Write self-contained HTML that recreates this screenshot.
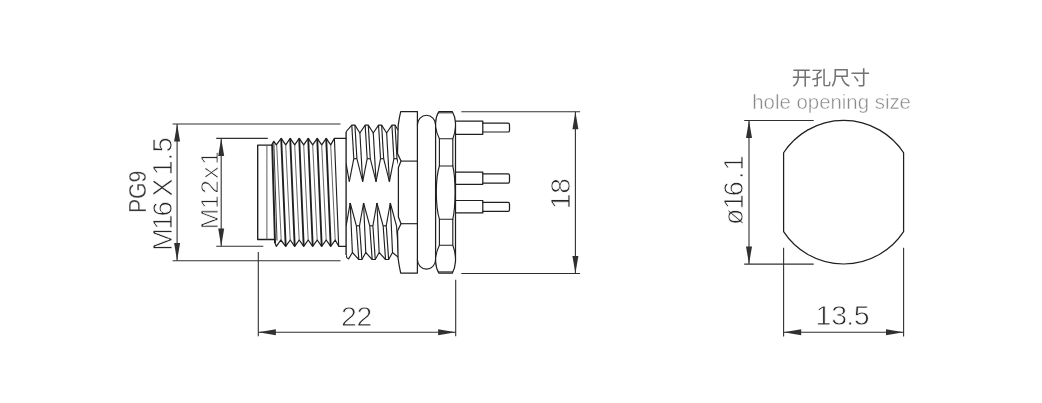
<!DOCTYPE html>
<html lang="zh">
<head>
<meta charset="utf-8">
<title>M12 connector drawing</title>
<style>
html,body{margin:0;padding:0;background:#fff;}
body{width:1042px;height:403px;overflow:hidden;position:relative;font-family:"Liberation Sans","Noto Sans CJK SC",sans-serif;}
svg{position:absolute;left:0;top:0;display:block;filter:grayscale(1);}
svg text{font-family:"Liberation Sans","Noto Sans CJK SC",sans-serif;}
</style>
</head>
<body>
<svg width="1042" height="403" viewBox="0 0 1042 403">
<defs><clipPath id="m16clip"><rect x="346.1" y="100" width="51.9" height="190"/></clipPath></defs>
<text x="146.40" y="191.80" font-size="23.8" text-anchor="middle" fill="#3a3a3a" stroke="#fff" stroke-width="0.3" transform="rotate(-90 146.40 191.80)" textLength="42.5" lengthAdjust="spacingAndGlyphs">PG9</text>
<text transform="translate(171.50 246.80) rotate(-90)" x="-4.15 17.16 30.43 50.13 71.26 86.26 94.25" y="0" font-size="27.6" fill="#282828" stroke="#fff" stroke-width="0.8">M16X1.5</text>
<text transform="translate(218.10 227.00) rotate(-90)" x="-2.35 18.24 33.26 48.20 62.24" y="0" font-size="24.6" fill="#282828" stroke="#fff" stroke-width="0.8">M12x1</text>
<text transform="translate(0.00 325.80)" x="341.10 356.45" y="0" font-size="28.4" fill="#282828" stroke="#fff" stroke-width="0.8">22</text>
<text transform="translate(569.70 205.20) rotate(-90)" x="-3.95 11.53" y="0" font-size="28.3" fill="#282828" stroke="#fff" stroke-width="0.8">18</text>
<text transform="translate(742.60 222.00) rotate(-90)" x="-2.94 12.86 25.73 43.06 51.46" y="0" font-size="26.9" fill="#282828" stroke="#fff" stroke-width="0.8">ø16.1</text>
<text transform="translate(0.00 325.40)" x="815.59 831.26 846.14 853.81" y="0" font-size="28.5" fill="#282828" stroke="#fff" stroke-width="0.8">13.5</text>
<text x="831.00" y="85.40" font-size="19.6" text-anchor="middle" fill="#737373" font-weight="400">开孔尺寸</text>
<text x="831.60" y="109.30" font-size="20.4" text-anchor="middle" fill="#8a8a8a" stroke="#fff" stroke-width="0.45">hole opening size</text>
<line x1="172.60" y1="124.00" x2="340.50" y2="124.00" stroke="#303030" stroke-width="1.1"/>
<line x1="172.60" y1="260.70" x2="340.50" y2="260.70" stroke="#303030" stroke-width="1.1"/>
<line x1="177.10" y1="124.00" x2="177.10" y2="260.70" stroke="#303030" stroke-width="1.1"/>
<polygon points="177.10,124.00 174.10,141.60 180.10,141.60" fill="#303030"/>
<polygon points="177.10,260.70 174.10,243.10 180.10,243.10" fill="#303030"/>
<line x1="216.20" y1="138.40" x2="267.80" y2="138.40" stroke="#303030" stroke-width="1.1"/>
<line x1="216.20" y1="246.20" x2="263.30" y2="246.20" stroke="#303030" stroke-width="1.1"/>
<line x1="221.20" y1="138.40" x2="221.20" y2="246.20" stroke="#303030" stroke-width="1.1"/>
<polygon points="221.20,138.40 218.20,156.00 224.20,156.00" fill="#303030"/>
<polygon points="221.20,246.20 218.20,228.60 224.20,228.60" fill="#303030"/>
<path d="M272.00 145.10 L257.70 145.10 L257.70 239.50 L274.80 239.50" fill="none" stroke="#1f1f1f" stroke-width="1.36" stroke-linejoin="round" stroke-linecap="round"/>
<line x1="266.90" y1="145.10" x2="266.90" y2="239.50" stroke="#555" stroke-width="0.95"/>
<path d="M272.00 145.10 L272.40 143.50 L273.80 141.30 L276.30 144.90 L281.20 138.40 L285.70 144.90 L290.20 138.40 L294.70 144.90 L299.20 138.40 L303.70 144.90 L308.20 138.40 L312.70 144.90 L317.20 138.40 L321.70 144.90 L326.20 138.40 L330.70 144.90 L334.40 138.40 L346.00 138.40" fill="none" stroke="#1f1f1f" stroke-width="1.24" stroke-linejoin="round" stroke-linecap="round"/>
<path d="M274.80 239.50 L275.00 243.00 L276.30 246.30 L280.80 240.00 L285.70 246.30 L290.20 240.00 L294.70 246.30 L299.20 240.00 L303.70 246.30 L308.20 240.00 L312.70 246.30 L317.20 240.00 L321.70 246.30 L326.20 240.00 L330.70 246.30 L335.20 240.00 L338.70 246.30 L346.00 246.30" fill="none" stroke="#1f1f1f" stroke-width="1.24" stroke-linejoin="round" stroke-linecap="round"/>
<line x1="272.20" y1="144.50" x2="275.00" y2="243.00" stroke="#1f1f1f" stroke-width="1.92"/>
<line x1="273.80" y1="141.30" x2="277.00" y2="240.50" stroke="#1f1f1f" stroke-width="0.9"/>
<line x1="281.20" y1="138.40" x2="285.70" y2="246.30" stroke="#1f1f1f" stroke-width="1.86"/>
<line x1="285.70" y1="144.90" x2="290.20" y2="240.00" stroke="#4a4a4a" stroke-width="0.85"/>
<line x1="290.20" y1="138.40" x2="294.70" y2="246.30" stroke="#1f1f1f" stroke-width="1.86"/>
<line x1="294.70" y1="144.90" x2="299.20" y2="240.00" stroke="#4a4a4a" stroke-width="0.85"/>
<line x1="299.20" y1="138.40" x2="303.70" y2="246.30" stroke="#1f1f1f" stroke-width="1.86"/>
<line x1="303.70" y1="144.90" x2="308.20" y2="240.00" stroke="#4a4a4a" stroke-width="0.85"/>
<line x1="308.20" y1="138.40" x2="312.70" y2="246.30" stroke="#1f1f1f" stroke-width="1.86"/>
<line x1="312.70" y1="144.90" x2="317.20" y2="240.00" stroke="#4a4a4a" stroke-width="0.85"/>
<line x1="317.20" y1="138.40" x2="321.70" y2="246.30" stroke="#1f1f1f" stroke-width="1.86"/>
<line x1="321.70" y1="144.90" x2="326.20" y2="240.00" stroke="#4a4a4a" stroke-width="0.85"/>
<line x1="326.20" y1="138.40" x2="330.70" y2="246.30" stroke="#1f1f1f" stroke-width="1.86"/>
<line x1="330.70" y1="144.90" x2="335.20" y2="240.00" stroke="#4a4a4a" stroke-width="0.85"/>
<line x1="276.70" y1="144.90" x2="281.20" y2="240.00" stroke="#4a4a4a" stroke-width="0.85"/>
<line x1="334.40" y1="138.40" x2="338.70" y2="246.30" stroke="#1f1f1f" stroke-width="1.13"/>
<line x1="346.10" y1="131.70" x2="346.10" y2="255.00" stroke="#1f1f1f" stroke-width="1.36"/>
<g clip-path="url(#m16clip)">
<path d="M346.10 131.70 L351.80 125.10 L354.90 125.10 L359.90 133.00 L365.17 125.10 L368.27 125.10 L373.27 133.00 L378.54 125.10 L381.64 125.10 L386.64 133.00 L391.91 125.10 L395.01 125.10 L398.00 130.00" fill="none" stroke="#1f1f1f" stroke-width="1.13" stroke-linejoin="round" stroke-linecap="round"/>
<line x1="351.80" y1="125.10" x2="353.80" y2="158.70" stroke="#1f1f1f" stroke-width="1.13"/>
<line x1="354.90" y1="125.10" x2="356.90" y2="158.70" stroke="#1f1f1f" stroke-width="1.13"/>
<line x1="353.80" y1="158.70" x2="356.90" y2="158.70" stroke="#1f1f1f" stroke-width="1.13"/>
<line x1="353.80" y1="158.70" x2="349.30" y2="181.60" stroke="#1f1f1f" stroke-width="1.13"/>
<line x1="356.90" y1="158.70" x2="362.67" y2="181.60" stroke="#1f1f1f" stroke-width="1.13"/>
<line x1="359.90" y1="133.00" x2="362.67" y2="181.60" stroke="#1f1f1f" stroke-width="1.13"/>
<line x1="365.17" y1="125.10" x2="367.17" y2="158.70" stroke="#1f1f1f" stroke-width="1.13"/>
<line x1="368.27" y1="125.10" x2="370.27" y2="158.70" stroke="#1f1f1f" stroke-width="1.13"/>
<line x1="367.17" y1="158.70" x2="370.27" y2="158.70" stroke="#1f1f1f" stroke-width="1.13"/>
<line x1="367.17" y1="158.70" x2="362.67" y2="181.60" stroke="#1f1f1f" stroke-width="1.13"/>
<line x1="370.27" y1="158.70" x2="376.04" y2="181.60" stroke="#1f1f1f" stroke-width="1.13"/>
<line x1="373.27" y1="133.00" x2="376.04" y2="181.60" stroke="#1f1f1f" stroke-width="1.13"/>
<line x1="378.54" y1="125.10" x2="380.54" y2="158.70" stroke="#1f1f1f" stroke-width="1.13"/>
<line x1="381.64" y1="125.10" x2="383.64" y2="158.70" stroke="#1f1f1f" stroke-width="1.13"/>
<line x1="380.54" y1="158.70" x2="383.64" y2="158.70" stroke="#1f1f1f" stroke-width="1.13"/>
<line x1="380.54" y1="158.70" x2="376.04" y2="181.60" stroke="#1f1f1f" stroke-width="1.13"/>
<line x1="383.64" y1="158.70" x2="389.41" y2="181.60" stroke="#1f1f1f" stroke-width="1.13"/>
<line x1="386.64" y1="133.00" x2="389.41" y2="181.60" stroke="#1f1f1f" stroke-width="1.13"/>
<line x1="391.91" y1="125.10" x2="393.91" y2="158.70" stroke="#1f1f1f" stroke-width="1.13"/>
<line x1="395.01" y1="125.10" x2="397.01" y2="158.70" stroke="#1f1f1f" stroke-width="1.13"/>
<line x1="393.91" y1="158.70" x2="397.01" y2="158.70" stroke="#1f1f1f" stroke-width="1.13"/>
<line x1="393.91" y1="158.70" x2="389.41" y2="181.60" stroke="#1f1f1f" stroke-width="1.13"/>
<line x1="397.01" y1="158.70" x2="402.78" y2="181.60" stroke="#1f1f1f" stroke-width="1.13"/>
<line x1="346.10" y1="163.60" x2="349.30" y2="181.60" stroke="#1f1f1f" stroke-width="1.13"/>
<path d="M346.10 255.00 L346.80 257.60 L348.60 258.90 L352.40 252.50 L358.80 259.50 L361.90 259.50 L365.77 252.50 L372.17 259.50 L375.27 259.50 L379.14 252.50 L385.54 259.50 L388.64 259.50 L392.51 252.50 L398.00 257.00" fill="none" stroke="#1f1f1f" stroke-width="1.13" stroke-linejoin="round" stroke-linecap="round"/>
<line x1="346.13" y1="225.80" x2="350.20" y2="203.00" stroke="#1f1f1f" stroke-width="1.13"/>
<line x1="359.50" y1="225.80" x2="363.57" y2="203.00" stroke="#1f1f1f" stroke-width="1.13"/>
<line x1="356.40" y1="225.80" x2="358.80" y2="259.50" stroke="#1f1f1f" stroke-width="1.13"/>
<line x1="359.50" y1="225.80" x2="361.90" y2="259.50" stroke="#1f1f1f" stroke-width="1.13"/>
<line x1="356.40" y1="225.80" x2="359.50" y2="225.80" stroke="#1f1f1f" stroke-width="1.13"/>
<line x1="356.40" y1="225.80" x2="350.20" y2="203.00" stroke="#1f1f1f" stroke-width="1.13"/>
<line x1="372.87" y1="225.80" x2="376.94" y2="203.00" stroke="#1f1f1f" stroke-width="1.13"/>
<line x1="369.77" y1="225.80" x2="372.17" y2="259.50" stroke="#1f1f1f" stroke-width="1.13"/>
<line x1="372.87" y1="225.80" x2="375.27" y2="259.50" stroke="#1f1f1f" stroke-width="1.13"/>
<line x1="369.77" y1="225.80" x2="372.87" y2="225.80" stroke="#1f1f1f" stroke-width="1.13"/>
<line x1="369.77" y1="225.80" x2="363.57" y2="203.00" stroke="#1f1f1f" stroke-width="1.13"/>
<line x1="386.24" y1="225.80" x2="390.31" y2="203.00" stroke="#1f1f1f" stroke-width="1.13"/>
<line x1="383.14" y1="225.80" x2="385.54" y2="259.50" stroke="#1f1f1f" stroke-width="1.13"/>
<line x1="386.24" y1="225.80" x2="388.64" y2="259.50" stroke="#1f1f1f" stroke-width="1.13"/>
<line x1="383.14" y1="225.80" x2="386.24" y2="225.80" stroke="#1f1f1f" stroke-width="1.13"/>
<line x1="383.14" y1="225.80" x2="376.94" y2="203.00" stroke="#1f1f1f" stroke-width="1.13"/>
<line x1="350.20" y1="203.00" x2="352.40" y2="252.50" stroke="#1f1f1f" stroke-width="1.13"/>
<line x1="363.57" y1="203.00" x2="365.77" y2="252.50" stroke="#1f1f1f" stroke-width="1.13"/>
<line x1="376.94" y1="203.00" x2="379.14" y2="252.50" stroke="#1f1f1f" stroke-width="1.13"/>
<line x1="390.31" y1="203.00" x2="392.51" y2="252.50" stroke="#1f1f1f" stroke-width="1.13"/>
<line x1="396.51" y1="225.80" x2="390.31" y2="203.00" stroke="#1f1f1f" stroke-width="1.13"/>
<line x1="396.51" y1="225.80" x2="398.91" y2="259.50" stroke="#1f1f1f" stroke-width="1.13"/>
</g>
<path d="M417.4 111.6 L400.7 111.6 Q399.2 117.5 398.2 125.5 L397.5 153.5 L401.0 161.1 L398.4 167.5 L398.4 217 L401.0 223.7 L397.5 231 L398.1 258.5 Q399.2 266.5 400.7 273.1 L417.4 273.1 Z" fill="none" stroke="#1f1f1f" stroke-width="1.24" stroke-linejoin="round" stroke-linecap="round"/>
<line x1="400.90" y1="161.10" x2="417.40" y2="161.10" stroke="#1f1f1f" stroke-width="1.13"/>
<line x1="400.90" y1="223.70" x2="417.40" y2="223.70" stroke="#1f1f1f" stroke-width="1.13"/>
<path d="M417.4 124.9 A9.1 9.6 0 0 1 435.6 124.9" fill="none" stroke="#1f1f1f" stroke-width="1.13" stroke-linejoin="round" stroke-linecap="round"/>
<path d="M417.4 259.5 A9.1 9.6 0 0 0 435.6 259.5" fill="none" stroke="#1f1f1f" stroke-width="1.13" stroke-linejoin="round" stroke-linecap="round"/>
<path d="M438.9 111.5 L452.3 111.5 Q455.0 116 455.5 123 L455.5 261.5 Q455.0 268.5 452.3 273.1 L438.9 273.1 Q436.0 268.5 435.6 261.5 L435.6 123 Q436.0 116 438.9 111.5 Z" fill="none" stroke="#1f1f1f" stroke-width="1.24" stroke-linejoin="round" stroke-linecap="round"/>
<line x1="438.40" y1="112.80" x2="452.80" y2="112.80" stroke="#1f1f1f" stroke-width="1.02"/>
<line x1="438.40" y1="271.90" x2="452.80" y2="271.90" stroke="#1f1f1f" stroke-width="1.02"/>
<path d="M435.6 127 Q436.6 133.5 439.4 138.7 L452.8 138.7 Q455.0 133.5 455.5 127" fill="none" stroke="#1f1f1f" stroke-width="1.13" stroke-linejoin="round" stroke-linecap="round"/>
<path d="M435.6 257.5 Q436.6 251 439.4 245.3 L452.8 245.3 Q455.0 251 455.5 257.5" fill="none" stroke="#1f1f1f" stroke-width="1.13" stroke-linejoin="round" stroke-linecap="round"/>
<line x1="439.40" y1="138.70" x2="439.40" y2="166.00" stroke="#1f1f1f" stroke-width="1.13"/>
<line x1="452.80" y1="138.70" x2="452.80" y2="166.00" stroke="#1f1f1f" stroke-width="1.13"/>
<line x1="439.40" y1="219.20" x2="439.40" y2="245.30" stroke="#1f1f1f" stroke-width="1.13"/>
<line x1="452.80" y1="219.20" x2="452.80" y2="245.30" stroke="#1f1f1f" stroke-width="1.13"/>
<path d="M439.4 166.0 L452.8 166.0" fill="none" stroke="#1f1f1f" stroke-width="1.13" stroke-linejoin="round" stroke-linecap="round"/>
<path d="M439.4 219.2 L452.8 219.2" fill="none" stroke="#1f1f1f" stroke-width="1.13" stroke-linejoin="round" stroke-linecap="round"/>
<path d="M439.4 166.0 Q436.4 175 436.3 192.3 Q436.4 209.5 439.4 219.2" fill="none" stroke="#1f1f1f" stroke-width="1.13" stroke-linejoin="round" stroke-linecap="round"/>
<path d="M452.8 166.0 Q455.0 175 455.1 192.3 Q455.0 209.5 452.8 219.2" fill="none" stroke="#1f1f1f" stroke-width="1.13" stroke-linejoin="round" stroke-linecap="round"/>
<path d="M455.7 121.1 L482.8 121.1 L482.8 134.3 L455.7 134.3" fill="none" stroke="#1f1f1f" stroke-width="1.24" stroke-linejoin="round" stroke-linecap="round"/>
<path d="M482.8 123.2 L507.9 123.2 Q509.5 123.2 509.5 124.8 L509.5 130.4 Q509.5 132.0 507.9 132.0 L482.8 132.0" fill="none" stroke="#1f1f1f" stroke-width="1.24" stroke-linejoin="round" stroke-linecap="round"/>
<path d="M455.7 172.2 L482.8 172.2 L482.8 184.3 L455.7 184.3" fill="none" stroke="#1f1f1f" stroke-width="1.24" stroke-linejoin="round" stroke-linecap="round"/>
<path d="M482.8 173.9 L507.9 173.9 Q509.5 173.9 509.5 175.5 L509.5 181.5 Q509.5 183.1 507.9 183.1 L482.8 183.1" fill="none" stroke="#1f1f1f" stroke-width="1.24" stroke-linejoin="round" stroke-linecap="round"/>
<path d="M455.7 200.5 L482.8 200.5 L482.8 212.9 L455.7 212.9" fill="none" stroke="#1f1f1f" stroke-width="1.24" stroke-linejoin="round" stroke-linecap="round"/>
<path d="M482.8 202.4 L507.9 202.4 Q509.5 202.4 509.5 204.0 L509.5 209.8 Q509.5 211.4 507.9 211.4 L482.8 211.4" fill="none" stroke="#1f1f1f" stroke-width="1.24" stroke-linejoin="round" stroke-linecap="round"/>
<line x1="258.30" y1="252.00" x2="258.30" y2="336.30" stroke="#303030" stroke-width="1.1"/>
<line x1="455.70" y1="279.80" x2="455.70" y2="336.30" stroke="#303030" stroke-width="1.1"/>
<line x1="258.30" y1="332.20" x2="455.70" y2="332.20" stroke="#303030" stroke-width="1.1"/>
<polygon points="258.30,332.20 275.90,329.20 275.90,335.20" fill="#303030"/>
<polygon points="455.70,332.20 438.10,329.20 438.10,335.20" fill="#303030"/>
<line x1="461.30" y1="111.70" x2="580.10" y2="111.70" stroke="#303030" stroke-width="1.1"/>
<line x1="461.30" y1="273.50" x2="580.10" y2="273.50" stroke="#303030" stroke-width="1.1"/>
<line x1="575.40" y1="111.70" x2="575.40" y2="273.50" stroke="#303030" stroke-width="1.1"/>
<polygon points="575.40,111.70 572.40,129.30 578.40,129.30" fill="#303030"/>
<polygon points="575.40,273.50 572.40,255.90 578.40,255.90" fill="#303030"/>
<path d="M783.60 152.76 A71.8 71.8 0 0 1 903.60 152.76 L903.60 231.64 A71.8 71.8 0 0 1 783.60 231.64 Z" fill="none" stroke="#1f1f1f" stroke-width="1.24" stroke-linejoin="round" stroke-linecap="round"/>
<line x1="744.20" y1="120.50" x2="813.70" y2="120.50" stroke="#303030" stroke-width="1.1"/>
<line x1="744.20" y1="264.10" x2="813.70" y2="264.10" stroke="#303030" stroke-width="1.1"/>
<line x1="749.00" y1="120.50" x2="749.00" y2="264.10" stroke="#303030" stroke-width="1.1"/>
<polygon points="749.00,120.50 746.00,138.10 752.00,138.10" fill="#303030"/>
<polygon points="749.00,264.10 746.00,246.50 752.00,246.50" fill="#303030"/>
<line x1="783.60" y1="247.70" x2="783.60" y2="336.60" stroke="#303030" stroke-width="1.1"/>
<line x1="903.60" y1="247.70" x2="903.60" y2="336.60" stroke="#303030" stroke-width="1.1"/>
<line x1="783.60" y1="332.20" x2="903.60" y2="332.20" stroke="#303030" stroke-width="1.1"/>
<polygon points="783.60,332.20 801.20,329.20 801.20,335.20" fill="#303030"/>
<polygon points="903.60,332.20 886.00,329.20 886.00,335.20" fill="#303030"/>
</svg>
</body>
</html>
